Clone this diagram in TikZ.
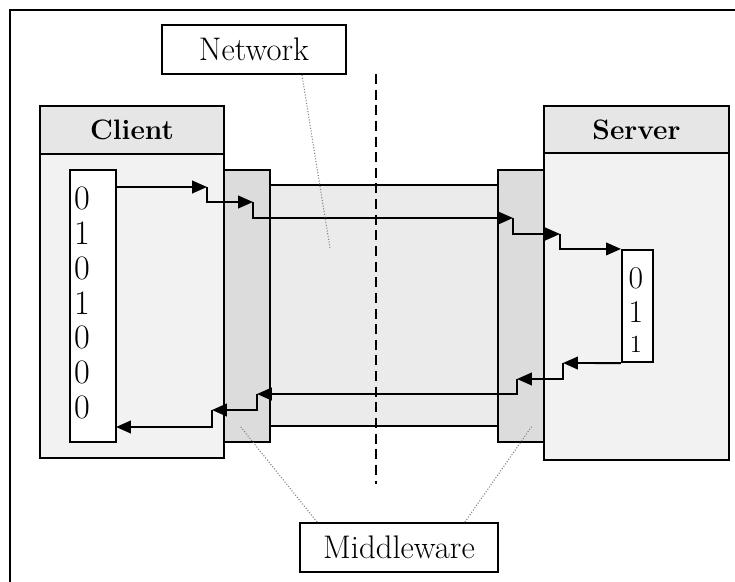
\documentclass[tikz,border=0pt]{standalone}
\usetikzlibrary{arrows.meta}
\definecolor{headgray}{HTML}{E6E6E6}
\definecolor{bodygray}{HTML}{F2F2F2}
\definecolor{midgray}{HTML}{DCDCDC}
\definecolor{netgray}{HTML}{EBEBEB}
\newcommand{\px}{0.02cm}
\newcommand{\edge}{1.2pt}
\tikzset{
  box/.style={draw, line width=\edge, inner sep=0pt},
  flow/.style={line width=1.1pt, -{Triangle[length=8.5pt,width=7.2pt]}},
  leader/.style={gray, densely dotted, line width=0.6pt},
  lbl/.style={font=\fontsize{18.6}{21}\selectfont},
  head/.style={font=\fontsize{16}{19}\selectfont\bfseries},
  digits/.style={align=center, font=\fontsize{19.5}{19.84}\selectfont, inner sep=0pt}
}

\begin{document}
\begin{tikzpicture}[x=\px, y=-\px]
\useasboundingbox (0,0) rectangle (735,582);
\draw[line width=\edge] (10,582) -- (10,10) -- (735,10);
%network label
\node[box, lbl, fill=white, minimum width={184*\px}, minimum height={49*\px}] (netlbl) at (254,49.5) {Network};
%client
\node[box, fill=bodygray, minimum width={184*\px}, minimum height={304*\px}] (cbody) at (132,306) {};
\node[box, head, fill=headgray, minimum width={184*\px}, minimum height={48*\px}] (chead) at (132,130) {Client};
\node[box, fill=white, minimum width={46*\px}, minimum height={272*\px}] (cbits) at (93,306) {};
\node[digits] (cdig) at (82,303) {0\\1\\0\\1\\0\\0\\0};
%network channel and middleware
\node[box, fill=netgray, minimum width={228*\px}, minimum height={241*\px}] (chan) at (384,305.5) {};
\node[box, fill=midgray, minimum width={46*\px}, minimum height={272*\px}] (mwl) at (247,306) {};
\node[box, fill=midgray, minimum width={46*\px}, minimum height={272*\px}] (mwr) at (521,306) {};
%server
\node[box, fill=bodygray, minimum width={185*\px}, minimum height={307*\px}] (sbody) at (636.5,306.5) {};
\node[box, head, fill=headgray, minimum width={185*\px}, minimum height={47*\px}] (shead) at (636.5,129.5) {Server};
\node[box, fill=white, minimum width={31*\px}, minimum height={112*\px}] (sbits) at (637.5,306) {};
\node[digits, font=\fontsize{18}{19}\selectfont] (sd1) at (636,278) {0};
\node[digits, font=\fontsize{18}{19}\selectfont] (sd2) at (636,312) {1};
\node[digits, font=\fontsize{14}{15}\selectfont] (sd3) at (636,344) {1};
%outgoing steps
\coordinate (f1) at (207,187);
\coordinate (f2) at (253,202);
\coordinate (f3) at (513,218);
\coordinate (f4) at (560,234);
\draw[flow] (cbits.east |- f1) -- (f1);
\draw[flow] (f1) |- (f2);
\draw[flow] (f2) |- (f3);
\draw[flow] (f3) |- (f4);
\draw[flow] (f4) |- (sbits.north west);
%returning steps
\coordinate (r1) at (563,363);
\coordinate (r2) at (517,379);
\coordinate (r3) at (257,394);
\coordinate (r4) at (212,410);
\coordinate (r5) at (116,427);
\draw[flow] (sbits.south west) -- (r1);
\draw[flow] (r1) |- (r2);
\draw[flow] (r2) |- (r3);
\draw[flow] (r3) |- (r4);
\draw[flow] (r4) |- (r5);
%divide
\coordinate (dtop) at (376,74);
\coordinate (dbot) at (376,484);
\draw[line width=1.1pt, dash pattern=on 5.7pt off 3.2pt] (dtop) -- (dbot);
%middleware label and leaders
\node[box, lbl, fill=white, minimum width={198*\px}, minimum height={49*\px}] (mwlbl) at (399,547.5) {Middleware};
\coordinate (netpt) at (330,248);
\coordinate (mwlpt) at (240,426);
\coordinate (mwrpt) at (532,426);
\draw[leader] ([xshift=0.96cm]netlbl.south) -- (netpt);
\draw[leader] ([xshift=-1.64cm]mwlbl.north) -- (mwlpt);
\draw[leader] ([xshift=1.32cm]mwlbl.north) -- (mwrpt);
\end{tikzpicture}
\end{document}
